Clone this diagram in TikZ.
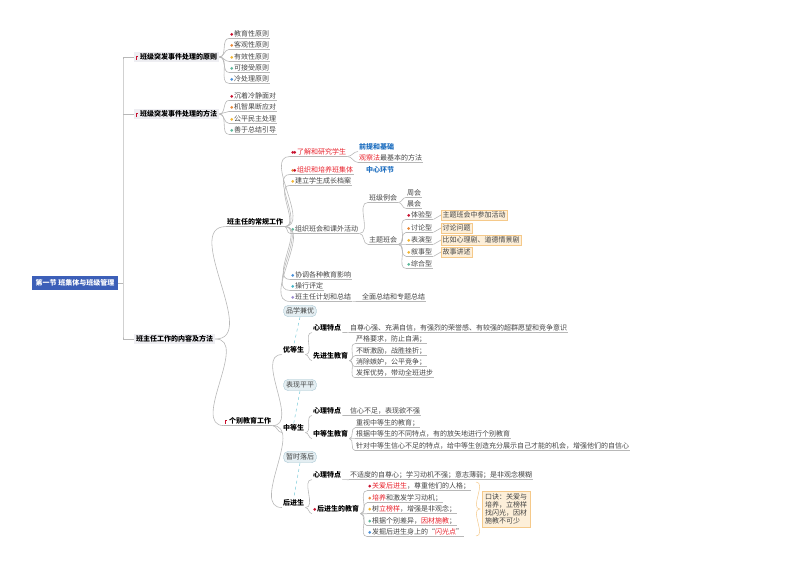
\documentclass[tikz,border=0pt]{standalone}
\usepackage{fontspec}
\setmainfont{Noto Sans CJK SC}
\usetikzlibrary{positioning}
\definecolor{cR}{HTML}{C8102E}\definecolor{cO}{HTML}{E8893A}\definecolor{cY}{HTML}{F2B632}
\definecolor{cG}{HTML}{5CB89A}\definecolor{cB}{HTML}{4A90D9}\definecolor{cP}{HTML}{9B8BD0}
\definecolor{cC}{HTML}{44B4C8}\definecolor{ln}{HTML}{B8B8B8}\definecolor{txt}{HTML}{444444}
\definecolor{rootb}{HTML}{3C5FB8}\definecolor{l1b}{HTML}{EEEEF2}\definecolor{notef}{HTML}{FDEFD9}
\definecolor{noted}{HTML}{F5C98A}\definecolor{tagf}{HTML}{E4EEF2}\definecolor{tagd}{HTML}{A9C7D3}
\definecolor{blu}{HTML}{1F6FC0}\definecolor{red2}{HTML}{E8202A}
\newcommand{\dt}[1]{\tikz[baseline=-0.6ex]\fill[#1] (0,0) circle(1.5pt);\hspace{1pt}}
\newcommand{\flg}{\tikz[baseline=0pt]\draw[cR,line width=0.5pt] (0,0) -- (0,3pt) -- (1.5pt,3pt);\hspace{2pt}}
\begin{document}
\begin{tikzpicture}[x=1pt,y=-1pt,font=\fontsize{7}{8}\selectfont,
 line/.style={draw=ln,line width=0.6pt},
 conn/.style={line,out=0,in=180},
 leaf/.style={anchor=west,inner sep=1pt,text=txt,append after command={(\tikzlastnode.south west) edge[line] (\tikzlastnode.south east)}},
 bold/.style={anchor=west,inner sep=1pt,text=black,font=\fontsize{7}{8}\selectfont\bfseries},
 lone/.style={anchor=west,fill=l1b,inner sep=2pt,text=black,font=\fontsize{7}{8}\selectfont\bfseries},
 note/.style={anchor=west,fill=notef,draw=noted,line width=0.4pt,inner sep=1.5pt,text=txt},
 tag/.style={fill=tagf,draw=tagd,rounded corners=5pt,inner sep=2.5pt,text=txt,line width=0.4pt},
 tagl/.style={draw=cC!70,dashed,line width=0.5pt}]
\useasboundingbox (0,0) rectangle (800,566);
\node[fill=rootb,text=white,inner sep=3.5pt,font=\fontsize{7}{8}\selectfont\bfseries] (root) at (75,283) {第一节 班集体与班级管理};
% level 1
\node[lone] (a) at (134,57) {\flg 班级突发事件处理的原则};
\node[lone] (b) at (134,114) {\flg 班级突发事件处理的方法};
\node[lone] (c) at (134,339) {班主任工作的内容及方法};
\coordinate (tr) at (123,283);
\draw[line] (root.east) -- (tr);
\draw[line] (a.west) -| (123,60) -- (123,336) |- (c.west);
\draw[line] (b.west) -- (123,114);
% principles
\foreach \t/\c/\y [count=\i] in {教育性原则/cR/34,客观性原则/cO/45,有效性原则/cY/57,可接受原则/cG/68,冷处理原则/cB/79}{
 \node[leaf] (a\i) at (229,\y) {\dt{\c}\t}; \draw[conn] (a.east) to (a\i.south west);}
\foreach \t/\c/\y [count=\i] in {沉着冷静面对/cR/96,机智果断应对/cO/107,公平民主处理/cY/119,善于总结引导/cG/130}{
 \node[leaf] (b\i) at (229,\y) {\dt{\c}\t}; \draw[conn] (b.east) to (b\i.south west);}
% level 2
\node[leaf,text=black,font=\fontsize{7}{8}\selectfont\bfseries] (c1) at (226,222) {班主任的常规工作};
\node[leaf,text=black,font=\fontsize{7}{8}\selectfont\bfseries] (c2) at (224,421) {\flg 个别教育工作};
\draw[conn] (c.east) to (c1.south west);
\draw[conn] (c.east) to (c2.south west);
% routine work
\node[leaf,text=red2] (r1) at (290,152) {\dt{cR}\hspace{-2pt}\dt{cR}了解和研究学生};
\node[leaf,text=red2] (r2) at (290,170) {\dt{cO}\hspace{-2pt}\dt{cR}组织和培养班集体};
\node[leaf] (r3) at (290,181) {\dt{cY}建立学生成长档案};
\node[leaf] (r4) at (290,229) {\dt{cG}组织班会和课外活动};
\node[leaf] (r5) at (290,275) {\dt{cB}协调各种教育影响};
\node[leaf] (r6) at (290,286) {\dt{cC}操行评定};
\node[leaf] (r7) at (290,297) {\dt{cP}班主任计划和总结};
\foreach \i in {1,...,7}{\draw[conn] (c1.south east) to (r\i.south west);}
\node[bold,text=blu] (r1a) at (358,147) {前提和基础};
\node[leaf] (r1b) at (358,158) {{\color{red2}观察法}最基本的方法};
\draw[conn] (r1.south east) to (r1a.south west);\draw[conn] (r1.south east) to (r1b.south west);
\node[bold,text=blu] (r2a) at (365,170) {中心环节};
\node[leaf] (r7a) at (361,297) {全面总结和专题总结};
\draw[line] (r7.south east) -- (r7a.south west);
\node[leaf] (m1) at (368,198) {班级例会};
\node[leaf] (m2) at (368,240) {主题班会};
\draw[conn] (r4.south east) to (m1.south west);\draw[conn] (r4.south east) to (m2.south west);
\node[leaf] (m11) at (406,193) {周会};\node[leaf] (m12) at (406,204) {晨会};
\draw[conn] (m1.south east) to (m11.south west);\draw[conn] (m1.south east) to (m12.south west);
\foreach \t/\c/\y [count=\i] in {体验型/cR/215,讨论型/cO/228,表演型/cY/240,叙事型/cY/252,综合型/cG/264}{
 \node[leaf] (t\i) at (406,\y) {\dt{\c}\t}; \draw[conn] (m2.south east) to (t\i.south west);}
\node[note] (n1) at (441,215) {主题班会中参加活动};
\node[note] (n2) at (441,228) {讨论问题};
\node[note] (n3) at (441,240) {比如心理剧、道德情景剧};
\node[note] (n4) at (441,252) {故事讲述};
\foreach \i in {1,...,4}{\draw[line] (t\i.south east) -- (n\i.west);}
% individual education
\node[bold] (s1) at (282,350) {优等生};
\node[bold] (s2) at (282,428) {中等生};
\node[bold] (s3) at (282,503) {后进生};
\foreach \i in {1,2,3}{\draw[conn] (c2.south east) to (s\i.south west);}
\node[tag] (g1) at (300,311) {品学兼优};\node[tag] (g2) at (300,385) {表现平平};\node[tag] (g3) at (300,457) {暂时落后};
\foreach \i in {1,2,3}{\draw[tagl] (g\i.south) -- (s\i.north);}
% 优等生
\node[bold] (p1) at (312,328) {心理特点};
\node[leaf] (p1a) at (349,328) {自尊心强、充满自信，有强烈的荣誉感、有较强的超群愿望和竞争意识};
\draw[line] (p1.south east) -- (p1a.south west);
\node[bold] (p2) at (312,356) {先进生教育};
\draw[conn] (s1.south east) to (p1.south west);\draw[conn] (s1.south east) to (p2.south west);
\foreach \t/\y [count=\i] in {严格要求，防止自满；/339,不断激励，战胜挫折；/351,消除嫉妒，公平竞争；/362,发挥优势，带动全班进步/373}{
 \node[leaf] (pe\i) at (355,\y) {\t}; \draw[conn] (p2.south east) to (pe\i.south west);}
% 中等生
\node[bold] (q1) at (312,411) {心理特点};
\node[leaf] (q1a) at (349,411) {信心不足，表现欲不强};
\draw[line] (q1.south east) -- (q1a.south west);
\node[bold] (q2) at (312,434) {中等生教育};
\draw[conn] (s2.south east) to (q1.south west);\draw[conn] (s2.south east) to (q2.south west);
\foreach \t/\y [count=\i] in {重视中等生的教育；/423,根据中等生的不同特点，有的放矢地进行个别教育/434,针对中等生信心不足的特点，给中等生创造充分展示自己才能的机会，增强他们的自信心/446}{
 \node[leaf] (qe\i) at (355,\y) {\t}; \draw[conn] (q2.south east) to (qe\i.south west);}
% 后进生
\node[bold] (h1) at (312,475) {心理特点};
\node[leaf] (h1a) at (349,475) {不适度的自尊心；学习动机不强；意志薄弱；是非观念模糊};
\draw[line] (h1.south east) -- (h1a.south west);
\node[bold] (h2) at (312,509) {\dt{cR}后进生的教育};
\draw[conn] (s3.south east) to (h1.south west);\draw[conn] (s3.south east) to (h2.south west);
\foreach \t/\c/\y [count=\i] in {{{\color{red2}关爱后进生}，尊重他们的人格；}/cR/486,{{\color{red2}培养}和激发学习动机；}/cO/498,{树{\color{red2}立榜样}，增强是非观念；}/cY/509,{根据个别差异，{\color{red2}因材施教}；}/cG/521,{发掘后进生身上的“{\color{red2}闪光点}”}/cB/532}{
 \node[leaf] (he\i) at (367,\y) {\dt{\c}\t}; \draw[conn] (h2.south east) to (he\i.south west);}
\draw[draw=noted,line width=0.5pt] (476,482) to[out=0,in=180] (480,509) to[out=180,in=0] (476,536);
\node[note,align=left,inner sep=3pt] (hn) at (482,509) {口诀：关爱与\\培养，立榜样\\找闪光，因材\\施教不可少};
\end{tikzpicture}
\end{document}
